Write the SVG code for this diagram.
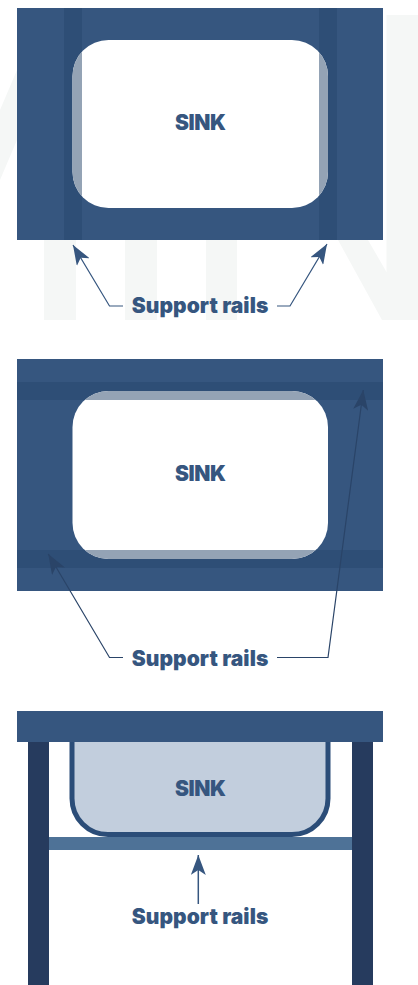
<svg xmlns="http://www.w3.org/2000/svg" width="418" height="985" viewBox="0 0 418 985">
<style>
.top{fill:#36567f}
.rail{fill:#2e4e76}
.basin{fill:#fff}
.ghost{fill:#94a3b5}
.wm{fill:#f5f7f6}
.lbl{font-family:"Inter","Liberation Sans",sans-serif;font-weight:900;fill:#36567f;text-anchor:middle;font-size:21px}
.ln{fill:none;stroke:#36567f;stroke-width:1.2}
.dk{stroke:#2a4468}
.leg{fill:#263b5e}
</style>
<defs>
<marker id="ah" markerUnits="userSpaceOnUse" markerWidth="21" markerHeight="15" refX="20" refY="7.500" orient="auto"><path d="M0 0L20 7.500L0 15L5 7.500Z" fill="#36567f"/></marker>
<marker id="ahd" markerUnits="userSpaceOnUse" markerWidth="21" markerHeight="15" refX="20" refY="7.500" orient="auto"><path d="M0 0L20 7.500L0 15L5 7.500Z" fill="#2a4468"/></marker>
<clipPath id="c1"><rect x="72.500" y="40" width="255.500" height="168" rx="36"/></clipPath>
<clipPath id="c2"><rect x="72.500" y="391" width="255.500" height="168" rx="36"/></clipPath>
</defs>
<g id="watermark">
<path class="wm" d="M0 110L17 70V140L0 180ZM44 240H76V320H44ZM125 240H157V320H125ZM206 240H237V320H206ZM338 240H368L386.500 272V15H418V320H382Z"/>
</g>
<g id="top-view-1">
<rect class="top" x="17" y="8" width="366" height="232"/>
<rect class="rail" x="64" y="8" width="18" height="232"/>
<rect class="rail" x="319" y="8" width="18" height="232"/>
<rect class="basin" x="72.500" y="40" width="255.500" height="168" rx="36"/>
<g clip-path="url(#c1)"><rect class="ghost" x="64" y="40" width="18" height="168"/><rect class="ghost" x="319" y="40" width="18" height="168"/></g>
<text class="lbl" x="200.400" y="130" textLength="51">SINK</text>
</g>
<g id="top-view-2">
<rect class="top" x="17" y="359" width="366" height="232"/>
<rect class="rail" x="17" y="382" width="366" height="18"/>
<rect class="rail" x="17" y="550" width="366" height="18"/>
<rect class="basin" x="72.500" y="391" width="255.500" height="168" rx="36"/>
<g clip-path="url(#c2)"><rect class="ghost" x="72" y="382" width="257" height="18"/><rect class="ghost" x="72" y="550" width="257" height="18"/></g>
<text class="lbl" x="200.400" y="481" textLength="51">SINK</text>
</g>
<g id="side-view">
<rect class="leg" x="28" y="742" width="21" height="243"/>
<rect class="leg" x="352" y="742" width="21" height="243"/>
<rect x="49" y="837" width="303" height="13" fill="#4e7297"/>
<path d="M72 742V798.500A36 36 0 0 0 108 834.500H292A36 36 0 0 0 328 798.500V742" fill="#c2cedd" stroke="#2b4d78" stroke-width="5"/>
<rect class="top" x="17" y="711" width="366" height="31"/>
<text class="lbl" x="200.400" y="796" textLength="51">SINK</text>
</g>
<g id="labels">
<text class="lbl" x="200" y="313" textLength="136.500">Support rails</text>
<text class="lbl" x="200" y="665.500" textLength="136.500">Support rails</text>
<text class="lbl" x="200" y="924" textLength="136.500">Support rails</text>
</g>
<g id="connectors">
<path class="ln" d="M123 306H109.500L73 245" marker-end="url(#ah)"/>
<path class="ln" d="M277 306H290L327 244" marker-end="url(#ah)"/>
<path class="ln dk" d="M123 657.500H109.500L48.300 554" marker-end="url(#ahd)"/>
<path class="ln dk" d="M277 657.500H328L363.300 390" marker-end="url(#ahd)"/>
<path class="ln" d="M198.300 904V855" marker-end="url(#ah)" style="stroke-width:1.5"/>
</g>
</svg>
